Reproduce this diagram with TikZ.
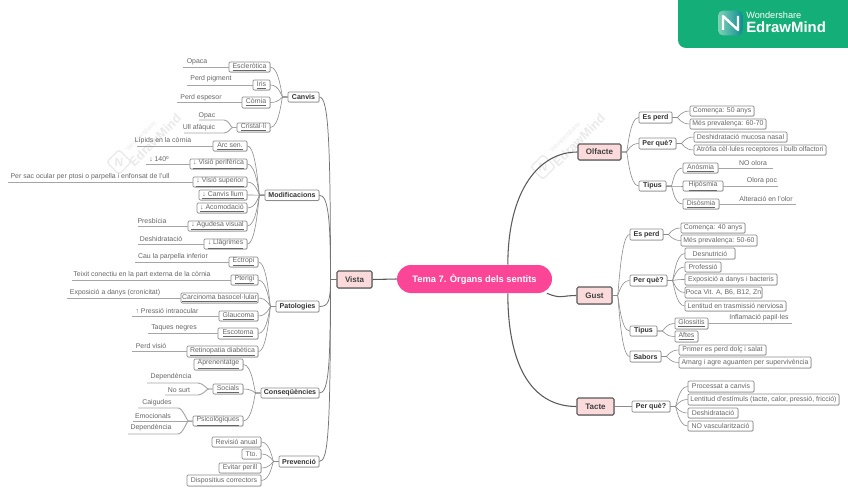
\documentclass[tikz,border=0pt]{standalone}
\usepackage{fontspec}
\setmainfont{Liberation Sans}
\usetikzlibrary{shadows}
\definecolor{branch}{HTML}{5A5A5A}
\definecolor{thin}{HTML}{8C8C8C}
\definecolor{notel}{HTML}{A6A6A6}
\definecolor{txt}{HTML}{666666}
\definecolor{rosa}{HTML}{FBDADC}
\definecolor{magenta}{HTML}{FB4597}
\definecolor{logog}{HTML}{14AE78}
\definecolor{wm}{HTML}{EAEAEA}
\tikzset{
  small/.style={font=\fontsize{5.2}{6}\selectfont,text=txt},
  leaf/.style={small,draw=thin,line width=0.55pt,fill=white,rounded corners=0.9pt,inner sep=0pt,
    drop shadow={shadow xshift=0.4pt,shadow yshift=-0.4pt,fill=black!22,opacity=1}},
  sub/.style={leaf,font=\fontsize{5.3}{6}\bfseries\selectfont,text=black!80},
  main/.style={draw=branch,line width=0.8pt,fill=rosa,rounded corners=1pt,inner sep=0pt,
    font=\fontsize{6}{7}\bfseries\selectfont,text=black!75,
    drop shadow={shadow xshift=0.4pt,shadow yshift=-0.4pt,fill=black!25,opacity=1}},
  centre/.style={fill=magenta,rounded corners=10.5pt,inner sep=0pt,text=white,
    font=\fontsize{7}{8}\bfseries\selectfont},
  notetxt/.style={small,inner sep=0pt},
  noteline/.style={draw=notel,line width=0.7pt},
  conn/.style={draw=thin,line width=0.45pt},
  trunk/.style={draw=branch,line width=0.8pt},
  trunkl/.style={draw=branch!85,line width=0.55pt},
  wmtxt/.style={text=wm,inner sep=0pt,rotate=45},
  wmicon/.style={draw=wm,line width=1pt,rounded corners=2pt,minimum size=13pt,inner sep=0pt,rotate=45,
    font=\fontsize{9}{9}\bfseries\selectfont,text=wm}
}
\newcommand{\bx}[7]{%
  \pgfmathsetmacro\bxcx{(#2+#4)/2}\pgfmathsetmacro\bxcy{(#3+#5)/2}%
  \pgfmathsetmacro\bxw{(#4-#2)*0.75}\pgfmathsetmacro\bxh{(#5-#3)*0.75}%
  \node[#6,minimum width=\bxw pt,minimum height=\bxh pt] (#1) at (\bxcx,\bxcy) {#7};}
\newcommand{\ul}[1]{\raisebox{-0.5pt}{\underline{#1}}}
% note above a line that leaves a box
\newcommand{\nt}[6]{%
  \node[notetxt] (#1) at (#4,#5) {#6};
  \coordinate (#1e) at (#3,0 |- #2);
  \draw[noteline] (#2) -- (#1e);}
% note on a line that branches from a box to the left
\newcommand{\nb}[8]{%
  \node[notetxt] (#1) at (#6,#7) {#8};
  \coordinate (#1a) at (#3,#5);
  \coordinate (#1b) at (#4,#5);
  \draw[noteline] (#2.west) -- ++(-4,0) .. controls +(-2,0) and +(5,0) .. (#1a) -- (#1b);}
\newcommand{\lkl}[2]{\draw[conn] (#1.west) -- ++(-5,0) .. controls +(-1,0) and +(9,0) .. (#2.east);}
\newcommand{\lkr}[2]{\draw[conn] (#1.east) -- ++(5,0) .. controls +(1,0) and +(-9,0) .. (#2.west);}
\begin{document}
\begin{tikzpicture}[x=0.75pt,y=-0.75pt]
\useasboundingbox (0,0) rectangle (848,495);
\fill[white] (0,0) rectangle (848,495);
% watermarks
\node[wmtxt,font=\fontsize{5}{6}\selectfont] (wa1) at (141,136) {Wondershare};
\node[wmtxt,font=\fontsize{9.5}{10}\bfseries\selectfont] (wa2) at (155,140) {EdrawMind};
\node[wmicon] (wa3) at (119,162) {\rotatebox{-45}{N}};
\node[wmtxt,font=\fontsize{5}{6}\selectfont] (wb1) at (565,137) {Wondershare};
\node[wmtxt,font=\fontsize{9.5}{10}\bfseries\selectfont] (wb2) at (579,140) {EdrawMind};
\node[wmicon] (wb3) at (543,167) {\rotatebox{-45}{N}};
% logo
\fill[logog,rounded corners=6pt] (678,-12) rectangle (860,48);
\node[left color=logog!55!white,right color=logog!80!blue,rounded corners=3.5pt,minimum size=18.5pt,inner sep=0pt] (logoicon) at (730.5,23) {};
\draw[white,line width=1.8pt,line join=round] (723,30) -- (723,16) -- (738,30) -- (738,16);
\node[inner sep=0pt,anchor=west,text=white,font=\fontsize{6.9}{8}\selectfont] (logo1) at (746,15) {Wondershare};
\node[inner sep=0pt,anchor=west,text=white,font=\fontsize{11.2}{12}\bfseries\selectfont] (logo2) at (746,27.5) {EdrawMind};
% centre
\bx{tema}{397}{265}{552}{293}{centre}{Tema 7. Òrgans dels sentits}
% level 1
\bx{vista}{337}{271}{372}{288}{main}{Vista}
\bx{olfacte}{578}{144}{621}{160}{main}{Olfacte}
\bx{gust}{577}{287}{612}{304}{main}{Gust}
\bx{tacte}{577}{398}{614}{415}{main}{Tacte}
\draw[trunk] (tema.west) -- (vista.east);
\draw[trunk] ([xshift=25pt]tema.north) .. controls +(0,-75) and +(-38,0) .. (olfacte.west);
\draw[trunk] ([xshift=25pt]tema.south) .. controls +(0,77) and +(-42,0) .. (tacte.west);
\draw[trunk] ([xshift=-4pt]tema.south east) .. controls +(14,6) and +(-15,0) .. (gust.west);
% level 2 left
\bx{canvis}{288}{92}{319}{102}{sub}{Canvis}
\bx{modif}{265}{190}{319}{200.5}{sub}{Modificacions}
\bx{patol}{276}{301}{319}{312}{sub}{Patologies}
\bx{conseq}{261}{388}{319}{398}{sub}{Conseqüències}
\bx{prev}{279}{456}{319}{467}{sub}{Prevenció}
\draw[trunkl] (vista.west) -- ++(-6,0) .. controls +(0,-140) and +(9,0) .. (canvis.east);
\draw[trunkl] (vista.west) -- ++(-6,0) .. controls +(0,-60) and +(9,0) .. (modif.east);
\draw[trunkl] (vista.west) -- ++(-6,0) .. controls +(0,22) and +(9,0) .. (patol.east);
\draw[trunkl] (vista.west) -- ++(-6,0) .. controls +(0,90) and +(9,0) .. (conseq.east);
\draw[trunkl] (vista.west) -- ++(-6,0) .. controls +(0,150) and +(9,0) .. (prev.east);
% Canvis
\bx{escl}{229}{62}{270}{72}{leaf}{\ul{Escleròtica}}
\bx{iris}{253}{80}{270}{90}{leaf}{\ul{Iris}}
\bx{corn}{242}{97}{270}{108}{leaf}{\ul{Còrnia}}
\bx{crist}{237}{123}{270}{132}{leaf}{\ul{Cristal·lí}}
\foreach \c in {escl,iris,corn,crist}{\lkl{canvis}{\c}}
\nt{n1}{escl.west}{183}{197}{62}{Opaca}
\nt{n2}{iris.west}{187}{211}{79}{Perd pigment}
\nt{n3}{corn.west}{177}{201}{98}{Perd espesor}
\nb{n4}{crist}{224}{199}{120}{207}{116}{Opac}
\nb{n5}{crist}{224}{184}{133}{199}{128}{Ull afàquic}
% Modificacions
\bx{arc}{213}{141}{247}{151}{leaf}{\ul{Arc sen.}}
\bx{vper}{190}{159}{247}{169}{leaf}{\ul{↓ Visió perifèrica}}
\bx{vsup}{193}{177}{247}{187}{leaf}{\ul{↓ Visió superior}}
\bx{cllum}{199}{190}{247}{200}{leaf}{\ul{↓ Canvis llum}}
\bx{acom}{197}{203}{247}{213}{leaf}{\ul{↓ Acomodació}}
\bx{agud}{188}{221}{247}{231}{leaf}{\ul{↓ Agudesa visual}}
\bx{llag}{204}{239}{247}{249}{leaf}{\ul{↓ Llàgrimes}}
\foreach \c in {arc,vper,vsup,cllum,acom,agud,llag}{\lkl{modif}{\c}}
\nt{n6}{arc.west}{137}{163}{141}{Lípids en la còrnia}
\nt{n7}{vper.west}{146}{159}{159}{↓ 140º}
\nt{n8}{vsup.west}{8}{90}{177}{Per sac ocular per ptosi o parpella i enfonsat de l'ull}
\nt{n9}{agud.west}{138}{152}{221}{Presbícia}
\nt{n10}{llag.west}{138}{161}{239}{Deshidratació}
% Patologies
\bx{ectr}{229}{257}{258}{267}{leaf}{\ul{Ectropi}}
\bx{pter}{231}{275}{258}{285}{leaf}{\ul{Pterigi}}
\bx{carc}{181}{293}{258}{303}{leaf}{\ul{Carcinoma basocel·lular}}
\bx{glau}{219}{311}{258}{321}{leaf}{\ul{Glaucoma}}
\bx{esco}{218}{328}{258}{339}{leaf}{\ul{Escotoma}}
\bx{reti}{187}{346}{258}{357}{leaf}{\ul{Retinopatia diabètica}}
\foreach \c in {ectr,pter,carc,glau,esco,reti}{\lkl{patol}{\c}}
\nt{n11}{ectr.west}{135}{173}{257}{Cau la parpella inferior}
\nt{n12}{pter.west}{72}{142}{275}{Teixit conectiu en la part externa de la còrnia}
\nt{n13}{carc.west}{67}{115}{293}{Exposició a danys (cronicitat)}
\nt{n14}{glau.west}{132}{167}{311}{↑ Pressió intraocular}
\nt{n15}{esco.west}{148}{174}{328}{Taques negres}
\nt{n16}{reti.west}{132}{151}{346}{Perd visió}
% Consequencies
\bx{apre}{194}{359}{243}{370}{leaf}{\ul{Aprenentatge}}
\bx{soci}{213}{384}{243}{394}{leaf}{\ul{Socials}}
\bx{psic}{193}{416}{243}{426}{leaf}{\ul{Psicològiques}}
\foreach \c in {apre,soci,psic}{\lkl{conseq}{\c}}
\nb{n17}{soci}{198}{147}{383}{171}{377}{Dependència}
\nb{n18}{soci}{198}{165}{395}{179}{390}{No surt}
\nb{n19}{psic}{178}{138}{408}{157}{403}{Caigudes}
\nt{n20}{psic.west}{133}{153}{416}{Emocionals}
\nb{n21}{psic}{178}{128}{434}{151}{428}{Dependència}
% Prevencio
\bx{revi}{212}{437}{261}{447}{leaf}{Revisió anual}
\bx{tto}{242}{449}{261}{459}{leaf}{Tto.}
\bx{evit}{219}{463}{261}{473}{leaf}{Evitar perill}
\bx{disp}{187}{475}{261}{486}{leaf}{Dispositius correctors}
\foreach \c in {revi,tto,evit,disp}{\lkl{prev}{\c}}
% Olfacte
\bx{oesp}{639}{112}{672}{123}{sub}{Es perd}
\bx{oper}{639}{138}{676}{149}{sub}{Per què?}
\bx{otip}{639}{181}{666}{191}{sub}{Tipus}
\foreach \c in {oesp,oper,otip}{\lkr{olfacte}{\c}}
\bx{oc1}{690}{106}{754}{116}{leaf}{Comença: 50 anys}
\bx{oc2}{690}{119}{766}{129}{leaf}{Més prevalença: 60-70}
\foreach \c in {oc1,oc2}{\lkr{oesp}{\c}}
\bx{op1}{694}{132}{787}{142}{leaf}{Deshidratació mucosa nasal}
\bx{op2}{694}{145}{826}{155}{leaf}{Atròfia cèl·lules receptores i bulb olfactori}
\foreach \c in {op1,op2}{\lkr{oper}{\c}}
\bx{ot1}{683}{163}{718}{173}{leaf}{\ul{Anòsmia}}
\bx{ot2}{683}{181}{723}{191}{leaf}{\ul{Hipòsmia}}
\bx{ot3}{683}{199}{719}{209}{leaf}{\ul{Disòsmia}}
\foreach \c in {ot1,ot2,ot3}{\lkr{otip}{\c}}
\nt{n22}{ot1.east}{773}{753}{163}{NO olora}
\nt{n23}{ot2.east}{778}{762}{181}{Olora poc}
\nt{n24}{ot3.east}{796}{766}{199}{Alteració en l'olor}
% Gust
\bx{gesp}{630}{229}{663}{240}{sub}{Es perd}
\bx{gper}{630}{275}{667}{286}{sub}{Per què?}
\bx{gtip}{630}{326}{657}{336}{sub}{Tipus}
\bx{gsab}{630}{351}{661}{362}{sub}{Sabors}
\foreach \c in {gesp,gper,gtip,gsab}{\lkr{gust}{\c}}
\bx{ge1}{681}{223}{745}{233}{leaf}{Comença: 40 anys}
\bx{ge2}{681}{235}{757}{246}{leaf}{Més prevalença: 50-60}
\foreach \c in {ge1,ge2}{\lkr{gesp}{\c}}
\bx{gp1}{685}{248}{735}{259}{leaf}{Desnutrició}
\bx{gp2}{685}{262}{721}{272}{leaf}{Professió}
\bx{gp3}{685}{274}{777}{285}{leaf}{Exposició a danys i bacteris}
\bx{gp4}{685}{287}{762}{298}{leaf}{Poca Vit. A, B6, B12, Zn}
\bx{gp5}{685}{301}{786}{311}{leaf}{Lentitud en trasmissió nerviosa}
\foreach \c in {gp1,gp2,gp3,gp4,gp5}{\lkr{gper}{\c}}
\bx{gt1}{675}{318}{708}{329}{leaf}{\ul{Glossitis}}
\bx{gt2}{675}{331}{698}{342}{leaf}{\ul{Aftes}}
\foreach \c in {gt1,gt2}{\lkr{gtip}{\c}}
\nt{n25}{gt1.east}{792}{759}{318}{Inflamació papil·les}
\bx{gs1}{679}{345}{766}{355}{leaf}{Primer es perd dolç i salat}
\bx{gs2}{679}{357}{811}{368}{leaf}{Amarg i agre aguanten per supervivència}
\foreach \c in {gs1,gs2}{\lkr{gsab}{\c}}
% Tacte
\bx{tper}{632}{401}{670}{412}{sub}{Per què?}
\lkr{tacte}{tper}
\bx{tp1}{688}{381}{754}{392}{leaf}{Processat a canvis}
\bx{tp2}{688}{394}{839}{405}{leaf}{Lentitud d'estímuls (tacte, calor, pressió, fricció)}
\bx{tp3}{688}{408}{738}{418}{leaf}{Deshidratació}
\bx{tp4}{688}{421}{753}{431}{leaf}{NO vascularització}
\foreach \c in {tp1,tp2,tp3,tp4}{\lkr{tper}{\c}}
\end{tikzpicture}
\end{document}
